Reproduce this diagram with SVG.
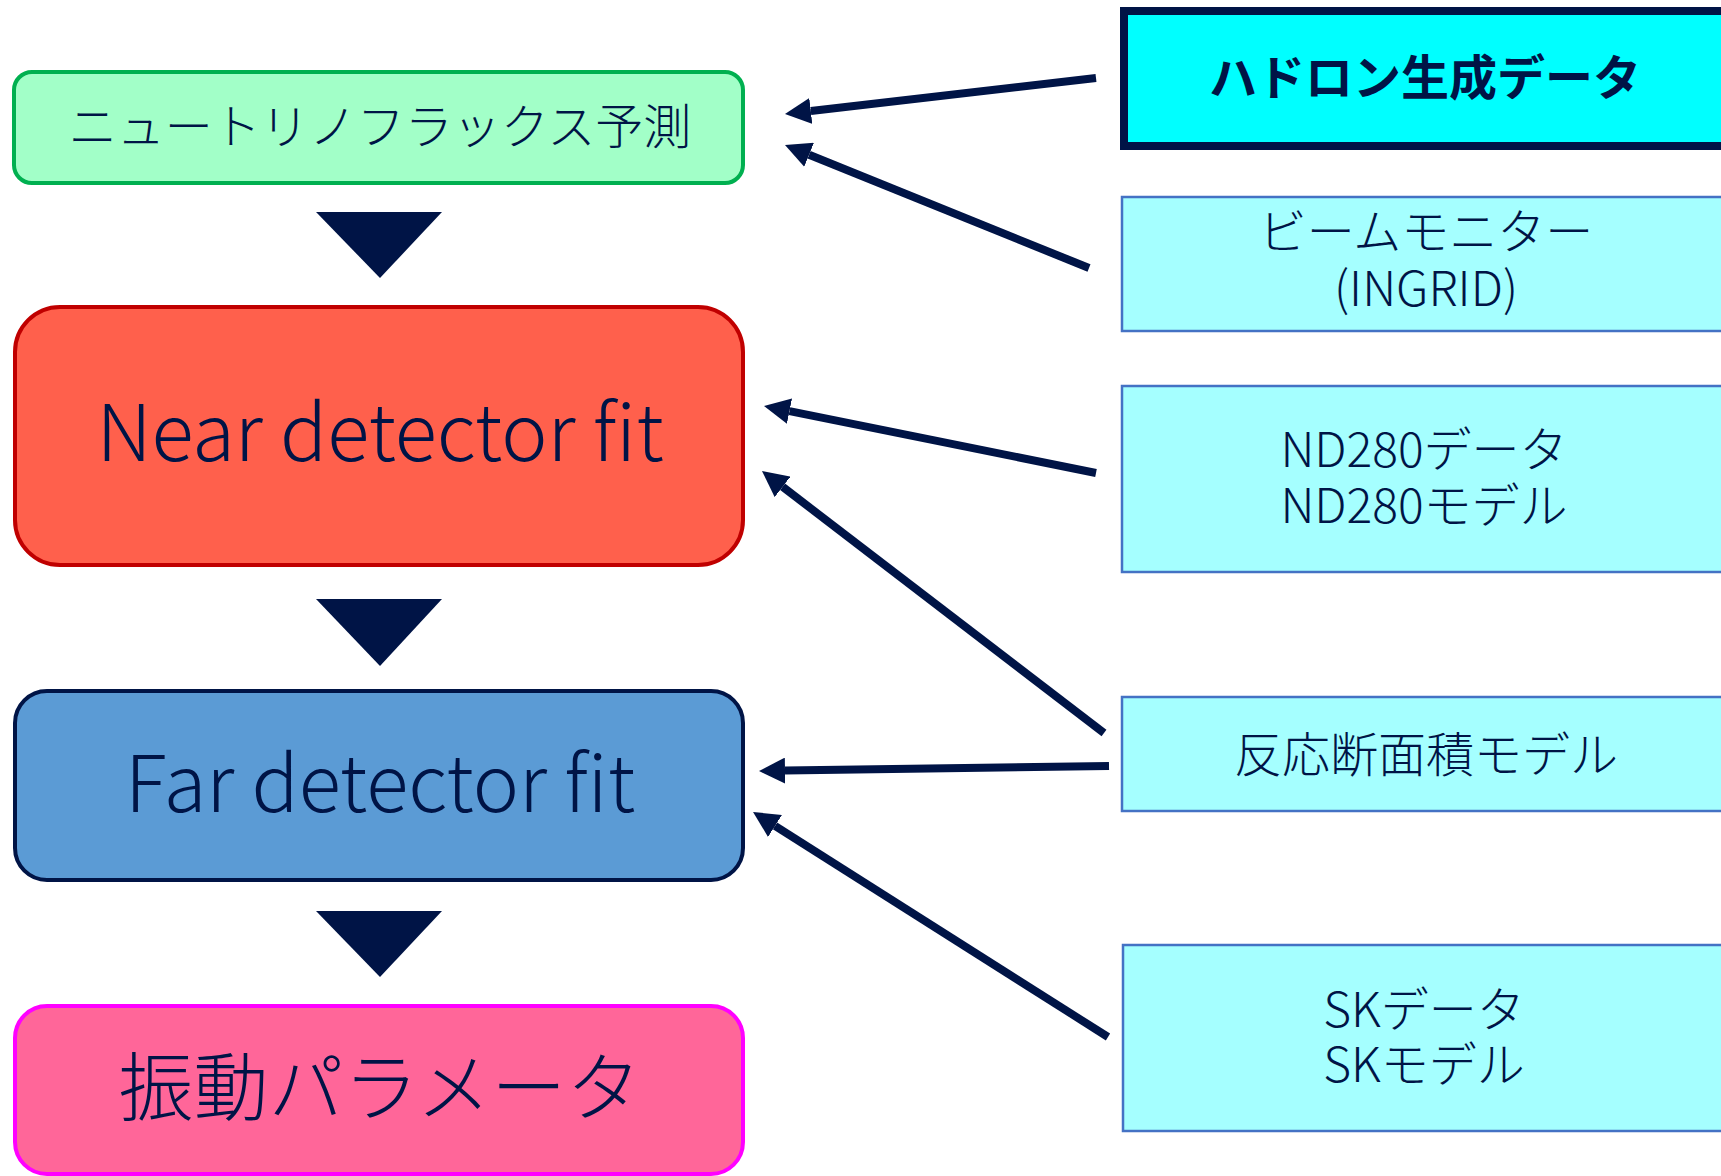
<svg xmlns="http://www.w3.org/2000/svg" width="1721" height="1176" viewBox="0 0 1721 1176">
<style>
text{font-family:"Noto Sans CJK JP","Noto Sans",sans-serif;fill:#001446;text-anchor:middle;font-weight:300}
.src{fill:#A5FFFF;stroke:#4472C4;stroke-width:2.5}
.rt{font-size:48px}
.conn{stroke:#001446;stroke-width:8;fill:none;marker-end:url(#ah)}
.tri{fill:#001446}
</style>
<defs>
<marker id="ah" markerUnits="userSpaceOnUse" markerWidth="26" markerHeight="26" viewBox="0 0 26 26" refX="0" refY="13" orient="auto">
<path d="M0,0 L26,13 L0,26 z" fill="#001446"/>
</marker>
</defs>
<rect width="1721" height="1176" fill="#FFFFFF"/>
<g id="flux">
<rect x="14" y="72" width="729" height="111" rx="18" fill="#A2FFC8" stroke="#00B050" stroke-width="4"/>
<text x="380" y="144" font-size="48">ニュートリノフラックス予測</text>
</g>
<g id="near">
<rect x="15" y="307" width="728" height="258" rx="45" fill="#FF604C" stroke="#C00000" stroke-width="4"/>
<text x="380" y="461" font-size="78">Near detector fit</text>
</g>
<g id="far">
<rect x="15" y="691" width="728" height="189" rx="32" fill="#5B9BD5" stroke="#001446" stroke-width="4"/>
<text x="380" y="812" font-size="78">Far detector fit</text>
</g>
<g id="osc">
<rect x="15" y="1006" width="728" height="168" rx="32" fill="#FF6699" stroke="#FF00FF" stroke-width="4"/>
<text x="380" y="1115" font-size="75">振動パラメータ</text>
</g>
<g id="flow">
<polygon class="tri" points="316,212 442,212 380,278"/>
<polygon class="tri" points="316,599 442,599 380,666"/>
<polygon class="tri" points="316,911 442,911 380,977"/>
</g>
<g id="hadron">
<rect x="1124" y="11" width="620" height="135" fill="#00FFFF" stroke="#001446" stroke-width="8"/>
<text class="rt" x="1425" y="95" style="font-weight:700">ハドロン生成データ</text>
</g>
<g id="beam">
<rect class="src" x="1122" y="197" width="620" height="134"/>
<text class="rt" x="1426" y="249">ビームモニター<tspan x="1426" dy="57">(INGRID)</tspan></text>
</g>
<g id="nd280">
<rect class="src" x="1122" y="386" width="620" height="186"/>
<text class="rt" x="1424" y="467">ND280データ<tspan x="1424" dy="56">ND280モデル</tspan></text>
</g>
<g id="xsec">
<rect class="src" x="1122" y="697" width="620" height="114"/>
<text class="rt" x="1426" y="772">反応断面積モデル</text>
</g>
<g id="sk">
<rect class="src" x="1123" y="945" width="620" height="186"/>
<text class="rt" x="1424" y="1027">SKデータ<tspan x="1424" dy="55">SKモデル</tspan></text>
</g>
<g id="connectors">
<line class="conn" x1="1096" y1="78" x2="810.8" y2="111.0"/>
<line class="conn" x1="1089" y1="268" x2="809.1" y2="154.8"/>
<line class="conn" x1="1096" y1="473" x2="789.5" y2="411.1"/>
<line class="conn" x1="1104" y1="733" x2="782.6" y2="486.8"/>
<line class="conn" x1="1109" y1="766" x2="785.0" y2="770.6"/>
<line class="conn" x1="1108" y1="1037" x2="775.0" y2="825.9"/>
</g>
</svg>
